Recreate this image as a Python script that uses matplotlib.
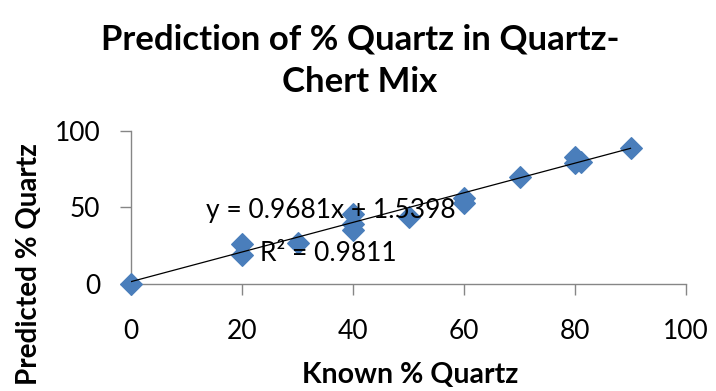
import matplotlib
matplotlib.use("Agg")
import matplotlib.pyplot as plt
import numpy as np

plt.rcParams['font.family'] = ['Lato', 'DejaVu Sans']

known = [0, 20, 20, 30, 40, 40, 40, 50, 60, 60, 70, 80, 80, 81, 90]
predicted = [0, 26, 19, 27, 46, 39, 35, 44, 56, 53, 70, 83, 79, 80, 89]
slope = 0.9681
intercept = 1.5398
r2 = 0.9811
xticks = [0, 20, 40, 60, 80, 100]
yticks = [0, 50, 100]

W, H = 716, 391
fig = plt.figure(figsize=(W / 100, H / 100), dpi=100)
ax = fig.add_axes([131 / W, 1 - 284 / H, 555 / W, 153 / H])

ax.scatter(known, predicted, marker='D', s=11 ** 2, color='#4A7EBB',
           edgecolors='#4A7EBB', zorder=3, clip_on=False)

xs = np.array([min(known), max(known)])
ax.plot(xs, slope * xs + intercept, color='black', lw=0.9, zorder=4)

ax.text(36, 48, "y = %.4fx + %.4f" % (slope, intercept), fontsize=19,
        ha='center', va='center', zorder=5)
ax.text(35.5, 20, "R² = %.4f" % r2, fontsize=19, ha='center', va='center', zorder=5)

ax.set_xlim(0, 100)
ax.set_ylim(0, 100)
ax.set_xticks(xticks)
ax.set_yticks(yticks)
ax.tick_params(axis='both', colors='#868686', labelcolor='black', labelsize=19,
               length=8, width=1)
ax.tick_params(axis='x', pad=17)
ax.tick_params(axis='y', pad=14)
for s in ['top', 'right']:
    ax.spines[s].set_visible(False)
for s in ['left', 'bottom']:
    ax.spines[s].set_color('#868686')
    ax.spines[s].set_linewidth(1)

fig.text(360 / W, 1 - 40 / H, "Prediction of % Quartz in Quartz-", fontsize=25,
         fontweight='bold', ha='center', va='center')
fig.text(360 / W, 1 - 82 / H, "Chert Mix", fontsize=25,
         fontweight='bold', ha='center', va='center')
fig.text(410 / W, 1 - 375 / H, "Known % Quartz", fontsize=20.5,
         fontweight='bold', ha='center', va='center')
fig.text(29 / W, 1 - 264 / H, "Predicted % Quartz", fontsize=20,
         fontweight='bold', ha='center', va='center', rotation=90)

fig.savefig("out.png", dpi=100)
